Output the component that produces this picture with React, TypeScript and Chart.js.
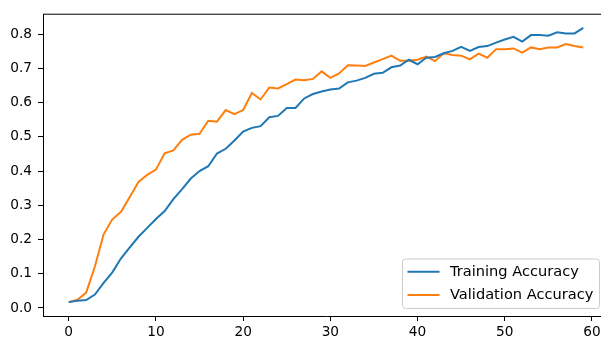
import React, { useEffect, useRef } from "react";
import { Chart, registerables } from "chart.js";

Chart.register(...registerables);

const epochs: number[] = Array.from({ length: 60 }, (_, i) => i);

const trainingAccuracy: number[] = [
  0.017, 0.021, 0.023, 0.039, 0.073, 0.104, 0.145, 0.177, 0.208, 0.234,
  0.26, 0.283, 0.318, 0.347, 0.378, 0.4, 0.414, 0.451, 0.465, 0.489,
  0.515, 0.526, 0.531, 0.557, 0.561, 0.584, 0.584, 0.612, 0.625, 0.632,
  0.638, 0.641, 0.659, 0.664, 0.672, 0.684, 0.687, 0.703, 0.708, 0.725,
  0.712, 0.731, 0.733, 0.744, 0.751, 0.763, 0.751, 0.762, 0.765, 0.775,
  0.784, 0.792, 0.778, 0.797, 0.797, 0.795, 0.805, 0.802, 0.802, 0.818,
];

const validationAccuracy: number[] = [
  0.017, 0.024, 0.045, 0.121, 0.215, 0.259, 0.281, 0.324, 0.368, 0.389,
  0.404, 0.452, 0.46, 0.491, 0.506, 0.509, 0.547, 0.544, 0.578, 0.566,
  0.578, 0.628, 0.609, 0.644, 0.641, 0.654, 0.667, 0.665, 0.669, 0.691,
  0.672, 0.685, 0.709, 0.708, 0.707, 0.717, 0.727, 0.737, 0.722, 0.722,
  0.725, 0.734, 0.721, 0.744, 0.739, 0.737, 0.726, 0.743, 0.731, 0.756,
  0.756, 0.758, 0.746, 0.761, 0.756, 0.761, 0.761, 0.771, 0.765, 0.761,
];

const seriesLabels: string[] = ["Training Accuracy", "Validation Accuracy"];
const seriesColors: string[] = ["#1f77b4", "#ff7f0e"];
const xTickValues: number[] = [0, 10, 20, 30, 40, 50, 60];
const yTickValues: number[] = [0, 0.1, 0.2, 0.3, 0.4, 0.5, 0.6, 0.7, 0.8];

const FONT = "'DejaVu Sans', sans-serif";
const FONT_SIZE = 13.7;
const LEGEND_FONT_SIZE = 14.6;

const framePlugin = {
  id: "frameAndLegend",
  afterDraw(chart: any) {
    const { ctx, chartArea } = chart;
    ctx.save();
    // top spine
    ctx.strokeStyle = "#000";
    ctx.lineWidth = 1;
    ctx.beginPath();
    ctx.moveTo(chartArea.left, chartArea.top);
    ctx.lineTo(chartArea.right, chartArea.top);
    ctx.stroke();

    // legend box (lower right)
    const right = chartArea.right - 9.5;
    const bottom = chartArea.bottom - 7.5;
    const w = 197;
    const h = 49.5;
    const left = right - w;
    const top = bottom - h;
    const r = 3;
    ctx.beginPath();
    ctx.moveTo(left + r, top);
    ctx.lineTo(right - r, top);
    ctx.arcTo(right, top, right, top + r, r);
    ctx.lineTo(right, bottom - r);
    ctx.arcTo(right, bottom, right - r, bottom, r);
    ctx.lineTo(left + r, bottom);
    ctx.arcTo(left, bottom, left, bottom - r, r);
    ctx.lineTo(left, top + r);
    ctx.arcTo(left, top, left + r, top, r);
    ctx.closePath();
    ctx.fillStyle = "rgba(255,255,255,0.8)";
    ctx.fill();
    ctx.strokeStyle = "#cccccc";
    ctx.lineWidth = 1;
    ctx.stroke();

    const datasets = chart.data.datasets;
    ctx.font = `${LEGEND_FONT_SIZE}px ${FONT}`;
    ctx.textBaseline = "middle";
    ctx.textAlign = "left";
    datasets.forEach((ds: any, i: number) => {
      const cy = top + 12.7 + i * 23.3;
      ctx.strokeStyle = ds.borderColor;
      ctx.lineWidth = 2;
      ctx.beginPath();
      ctx.moveTo(left + 5, cy);
      ctx.lineTo(left + 37, cy);
      ctx.stroke();
      ctx.fillStyle = "#000";
      ctx.fillText(ds.label, left + 47.5, cy + 0.5);
    });
    ctx.restore();
  },
};

export default function App() {
  const canvasRef = useRef<HTMLCanvasElement | null>(null);

  useEffect(() => {
    const canvas = canvasRef.current;
    if (!canvas) return;
    const seriesValues = [trainingAccuracy, validationAccuracy];
    const chart = new Chart(canvas, {
      type: "line",
      data: {
        datasets: seriesValues.map((vals, k) => ({
          label: seriesLabels[k],
          data: epochs.map((e, i) => ({ x: e, y: vals[i] })),
          borderColor: seriesColors[k],
          backgroundColor: seriesColors[k],
          borderWidth: 2,
          pointRadius: 0,
          tension: 0,
          fill: false,
        })),
      },
      options: {
        responsive: false,
        animation: false,
        events: [],
        layout: { padding: { top: 14, left: 0, right: 0, bottom: 0 } },
        plugins: {
          legend: { display: false },
          tooltip: { enabled: false },
        },
        scales: {
          x: {
            type: "linear",
            min: -2.95,
            max: 61.95,
            afterBuildTicks: (s: any) => {
              s.ticks = xTickValues.map((v) => ({ value: v }));
            },
            afterFit: (s: any) => {
              s.height = 24;
            },
            grid: {
              drawOnChartArea: false,
              drawTicks: true,
              tickLength: 5,
              tickColor: "#000",
              color: "#000",
            },
            border: { color: "#000", width: 1 },
            ticks: {
              color: "#000",
              font: { family: FONT, size: FONT_SIZE },
              padding: 3,
              maxRotation: 0,
              autoSkip: false,
              callback: (v: any) => String(v),
            },
          },
          y: {
            type: "linear",
            min: -0.0235,
            max: 0.858,
            afterBuildTicks: (s: any) => {
              s.ticks = yTickValues.map((v) => ({ value: v }));
            },
            afterFit: (s: any) => {
              s.width = 43;
            },
            grid: {
              drawOnChartArea: false,
              drawTicks: true,
              tickLength: 5,
              tickColor: "#000",
              color: "#000",
            },
            border: { color: "#000", width: 1 },
            ticks: {
              color: "#000",
              font: { family: FONT, size: FONT_SIZE },
              padding: 6,
              autoSkip: false,
              callback: (v: any) => Number(v).toFixed(1),
            },
          },
        },
      },
      plugins: [framePlugin],
    });
    return () => chart.destroy();
  }, []);

  return (
    <div
      style={{
        position: "fixed",
        left: 0,
        top: 0,
        width: 601,
        height: 340,
        overflow: "hidden",
        background: "#fff",
      }}
    >
      <canvas ref={canvasRef} width={609} height={340} style={{ display: "block" }} />
    </div>
  );
}
